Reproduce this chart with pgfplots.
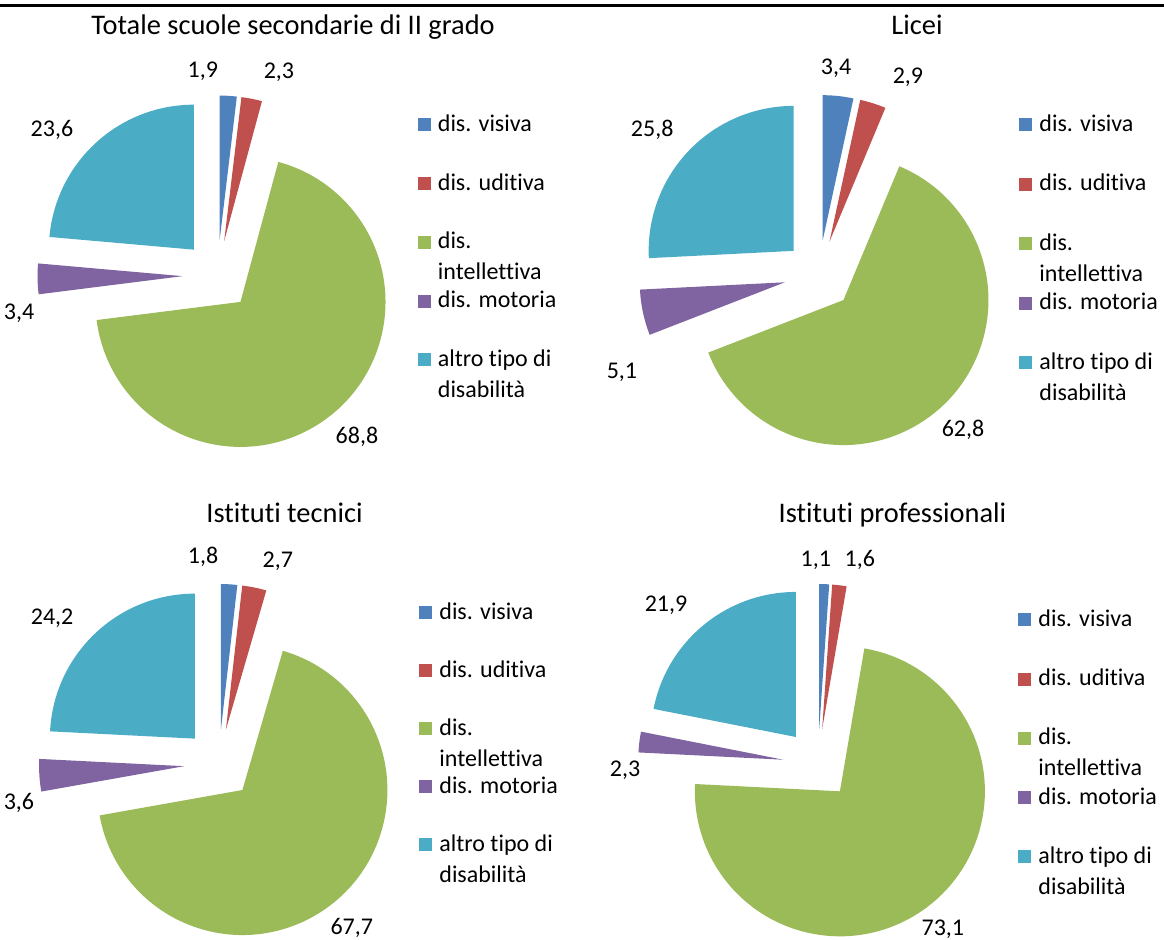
\documentclass[border=0pt]{standalone}
\usepackage{pgfplots}
\pgfplotsset{compat=1.18}
\usepackage{pgfplotstable}
\usepackage{fontspec}
\setmainfont{Carlito}[Ligatures=NoCommon]

\definecolor{pie0}{HTML}{4F81BD}
\definecolor{pie1}{HTML}{C0504D}
\definecolor{pie2}{HTML}{9BBB59}
\definecolor{pie3}{HTML}{8064A2}
\definecolor{pie4}{HTML}{4BACC6}

\pgfkeys{/pgf/number format/.cd, use comma, fixed, fixed zerofill, precision=1, assume math mode=true}

% val = share (%), la/ld = direction (deg) and distance (px) of the value label from the pie centre
\pgfplotstableread{
val la ld
1.9 94.1 205
2.3 73.2 212.6
68.8 -49.2 213.4
3.4 190.7 202
23.6 138.7 220.4
}\totale
\pgfplotstableread{
val la ld
3.4 85.3 207.7
2.9 65.8 217
62.8 -47.1 211.6
5.1 206.2 219.6
25.8 139 221
}\licei
\pgfplotstableread{
val la ld
1.8 94.4 207.6
2.7 73.8 211
67.7 -51 211
3.6 191 203.8
24.2 138.8 221.8
}\tecnici
\pgfplotstableread{
val la ld
1.1 90.6 204
1.6 78.4 208
73.1 -53.0 207.5
2.3 181.8 193
21.9 133.7 220
}\professionali

\def\explode{35}
\def\radius{72.5pt}

\tikzset{
  vlab/.style={inner sep=0pt, anchor=center, font=\fontsize{12}{14}\selectfont},
  legtext/.style={inner sep=0pt, anchor=base west, font=\fontsize{12}{14}\selectfont},
  ttl/.style={inner sep=0pt, anchor=base, font=\fontsize{14.2}{17}\selectfont},
}
\pgfplotsset{piepanel/.style={hide axis, clip=false, x=0.5pt, y=0.5pt,
  anchor=north west, enlargelimits=false}}

% slices clockwise from 12 o'clock, each pulled out along its middle
\newcommand{\drawpie}[1]{%
  \def\angacc{90}%
  \pgfplotsforeachungrouped \pieidx in {0,...,4}{%
    \pgfplotstablegetelem{\pieidx}{val}\of{#1}\let\pieval\pgfplotsretval
    \pgfplotstablegetelem{\pieidx}{la}\of{#1}\let\labang\pgfplotsretval
    \pgfplotstablegetelem{\pieidx}{ld}\of{#1}\let\labdist\pgfplotsretval
    \pgfmathsetmacro\angend{\angacc-3.6*\pieval}%
    \pgfmathsetmacro\angmid{(\angacc+\angend)/2}%
    \pgfmathsetmacro\vx{\explode*cos(\angmid)}%
    \pgfmathsetmacro\vy{\explode*sin(\angmid)}%
    \pgfmathsetmacro\lx{\labdist*cos(\labang)}%
    \pgfmathsetmacro\ly{\labdist*sin(\labang)}%
    \edef\temp{%
      \noexpand\fill[pie\pieidx] (axis cs:\vx,\vy) -- ++(\angacc:\radius)
        arc[start angle=\angacc, end angle=\angend, radius=\radius] -- cycle;
      \noexpand\node[vlab] at (axis cs:\lx,\ly) {\noexpand\pgfmathprintnumber{\pieval}};}%
    \temp
    \let\angacc\angend
  }%
}

\newcommand{\legentry}[3]{%
  \pgfmathsetmacro\legbase{\legtop-\legstep*#1}%
  \pgfmathsetmacro\legsq{\legbase+13}%
  \pgfmathsetmacro\legsecond{\legbase-31}%
  \edef\temp{%
    \noexpand\fill[pie#1] (axis cs:200,\legbase) rectangle (axis cs:213.4,\legsq);
    \noexpand\node[legtext] at (axis cs:220,\legbase) {#2};
    \noexpand\node[legtext] at (axis cs:220,\legsecond) {#3};}%
  \temp
}
\newcommand{\drawlegend}{%
  \legentry{0}{dis. visiva}{}%
  \legentry{1}{dis. uditiva}{}%
  \legentry{2}{dis.}{intellettiva}%
  \legentry{3}{dis. motoria}{}%
  \legentry{4}{altro tipo di}{disabilità}%
}

\begin{document}
\begin{tikzpicture}
\useasboundingbox (0pt,0pt) rectangle (582pt,-470pt);
\begin{axis}[piepanel, at={(0pt,0pt)}, xmin=-217.5, xmax=364.5, ymin=-194.5, ymax=275.5]
  \drawpie{\totale}
  \node[ttl] at (axis cs:75.5,240.5) {Totale scuole secondarie di II grado};
  \def\legtop{144}\def\legstep{58.7}
  \drawlegend
\end{axis}
\begin{axis}[piepanel, at={(291pt,0pt)}, xmin=-237, xmax=345, ymin=-195, ymax=275]
  \drawpie{\licei}
  \node[ttl] at (axis cs:98,240) {Licei};
  \def\legtop{143.5}\def\legstep{59.5}
  \drawlegend
\end{axis}
\begin{axis}[piepanel, at={(0pt,-235pt)}, xmin=-219, xmax=363, ymin=-176, ymax=294]
  \drawpie{\tecnici}
  \node[ttl] at (axis cs:65.5,241) {Istituti tecnici};
  \def\legtop{144.7}\def\legstep{58}
  \drawlegend
\end{axis}
\begin{axis}[piepanel, at={(291pt,-235pt)}, xmin=-236, xmax=346, ymin=-176, ymax=294]
  \drawpie{\professionali}
  \node[ttl] at (axis cs:74.5,241) {Istituti professionali};
  \def\legtop{137.5}\def\legstep{59.25}
  \drawlegend
\end{axis}
\draw[line width=1.75pt] (0pt,-2.65pt) -- (582pt,-2.65pt);
\end{tikzpicture}
\end{document}
